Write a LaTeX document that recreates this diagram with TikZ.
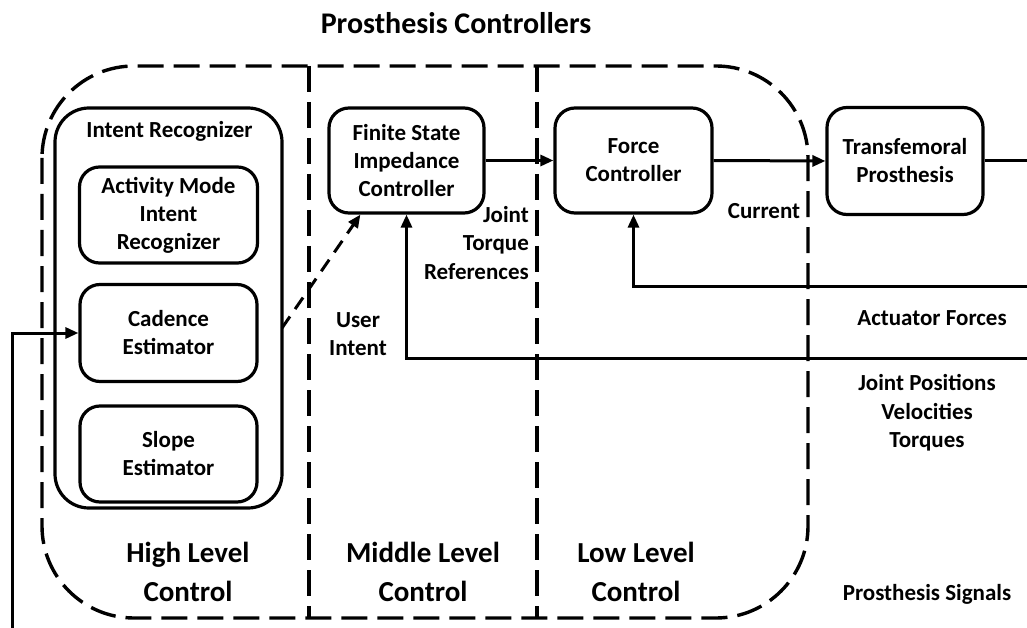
\documentclass[tikz,border=0pt]{standalone}
\usepackage{fontspec}
\setmainfont{Carlito}
\usetikzlibrary{arrows.meta}
\tikzset{
  blk/.style={draw, line width=3.2pt, rounded corners=20pt, align=center, font=\fontsize{23}{28}\selectfont\bfseries},
  arr/.style={line width=3pt, -{Triangle[length=13pt,width=11pt]}},
  ln/.style={line width=3pt},
  dashpat/.style={line width=3.4pt, dash pattern=on 26pt off 10pt},
  lbl/.style={font=\fontsize{23}{28.5}\selectfont\bfseries, align=center, inner sep=0pt},
  lvl/.style={font=\fontsize{29}{39}\selectfont\bfseries, align=center, inner sep=0pt},
}
\begin{document}
\begin{tikzpicture}[x=1pt,y=-1pt]
\useasboundingbox (0,0) rectangle (1027,628);
% outer dashed frame and dividers
\draw[dashpat, rounded corners=92pt] (42,66) rectangle (808,618);
\draw[dashpat] (309,66) -- (309,618);
\draw[dashpat] (537,66) -- (537,618);
% title
\node[lbl, font=\fontsize{30}{34}\selectfont\bfseries] (title) at (456,23) {Prosthesis Controllers};
% intent recognizer
\node[draw, line width=3.2pt, rounded corners=34pt, minimum width=227pt, minimum height=400pt] (ir) at (168.5,308) {};
\node[lbl] (irl) at (169.5,131) {Intent Recognizer};
\node[blk, minimum width=178pt, minimum height=96pt] (am) at (168.5,215) {Activity Mode\\Intent\\Recognizer};
\node[blk, minimum width=177pt, minimum height=97pt] (cad) at (168.5,333) {Cadence\\Estimator};
\node[blk, minimum width=177pt, minimum height=96pt] (slope) at (168.5,454) {Slope\\Estimator};
% controllers
\node[blk, minimum width=155pt, minimum height=105pt] (fsic) at (406.5,160.5) {Finite State\\Impedance\\Controller};
\node[blk, minimum width=157pt, minimum height=105pt] (fc) at (633.5,160.5) {Force\\Controller};
\node[blk, minimum width=156pt, minimum height=107pt] (tp) at (905,161) {Transfemoral\\Prosthesis};
% free ends
\coordinate (out) at (1027,161);
\coordinate (af) at (1027,286);
\coordinate (jp) at (1027,358);
\coordinate (cs) at (12,628);
\coordinate (uis) at (282,328);
\coordinate (uie) at ([xshift=33pt]fsic.south west);
% connectors
\draw[arr] (fsic.east) -- (fc.west);
\draw[arr] (fc.east) -- (tp.west);
\draw[ln] (tp.east) -- (out);
\draw[arr] (af) -| (fc.south);
\draw[arr] (jp) -| (fsic.south);
\draw[arr] (cs) |- (cad.west);
\draw[arr, dash pattern=on 14pt off 9pt] (uis) -- (uie);
% labels
\node[lbl, anchor=east, align=right] (jtr) at (529,243) {Joint\\Torque\\References};
\node[lbl] (cur) at (764,211) {Current};
\node[lbl] (ui) at (358,334) {User\\Intent};
\node[lbl] (afl) at (932,318) {Actuator Forces};
\node[lbl] (jpl) at (927,413) {Joint Positions\\Velocities\\Torques};
\node[lvl] (hl) at (188,572) {High Level\\Control};
\node[lvl] (ml) at (423,572) {Middle Level\\Control};
\node[lvl] (ll) at (636,572) {Low Level\\Control};
\node[lbl] (ps) at (927,594) {Prosthesis Signals};
\end{tikzpicture}
\end{document}
